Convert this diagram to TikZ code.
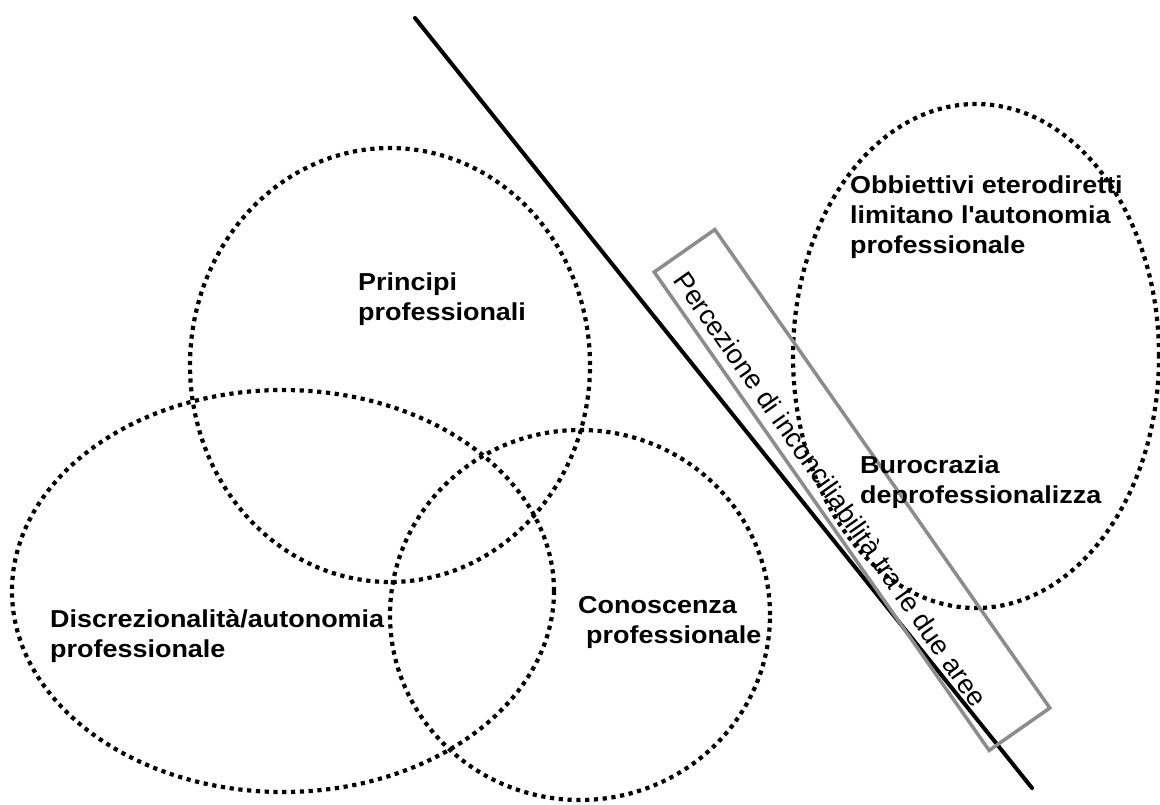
\documentclass[tikz,border=0pt]{standalone}
\usepackage{fontspec}
\setmainfont{Liberation Sans}[FakeStretch=1.1]
\newfontfamily\bandfont{Liberation Sans}
\usetikzlibrary{shapes.geometric}
\definecolor{bandgray}{RGB}{140,140,140}
\begin{document}
\begin{tikzpicture}[x=1pt,y=-1pt,
  zone/.style={ellipse, draw=black, line width=4.2pt, dash pattern=on 4.2pt off 4.6pt, inner sep=0pt},
  % anchored on the baseline of the last line
  zonelabel/.style={anchor=base west, align=left, inner sep=0pt,
    font=\fontsize{24.5}{30}\selectfont\bfseries},
  bandbox/.style={draw=bandgray, line width=3.5pt, rotate=-55, inner sep=0pt},
  bandlabel/.style={rotate=-55, inner sep=0pt, font=\bandfont\fontsize{27.2}{30}\selectfont}]
\useasboundingbox (0,0) rectangle (1160,804);

% dotted areas
\node[zone, minimum width=400pt, minimum height=434pt] (principi) at (390,365) {};
\node[zone, minimum width=542pt, minimum height=402pt] (discr) at (283,591) {};
\node[zone, minimum width=380pt, minimum height=370pt] (conosc) at (580,615) {};
\node[zone, minimum width=366pt, minimum height=504pt] (burocr) at (976,356) {};

% dividing line
\coordinate (ltop) at (415,18);
\coordinate (lbot) at (1032,788);
\draw[line width=4pt, line cap=round] (ltop) -- (lbot);

% band along the line
\node[bandbox, minimum width=584pt, minimum height=74pt] (band) at (852,490) {};
\node[bandlabel] (bandtext) at (831,489) {Percezione di inconciliabilità tra le due aree};

% labels
\node[zonelabel] (tprincipi) at (358,320) {Principi\\professionali};
\node[zonelabel] (tdiscr) at (50,657) {Discrezionalità/autonomia\\professionale};
\node[zonelabel] (tconosc) at (578,643) {Conoscenza\\\hspace*{8pt}professionale};
\node[zonelabel] (tobbiet) at (850,253) {Obbiettivi eterodiretti\\limitano l\textquotesingle autonomia\\professionale};
\node[zonelabel] (tburo) at (860,503) {Burocrazia\\deprofessionalizza};
\end{tikzpicture}
\end{document}
